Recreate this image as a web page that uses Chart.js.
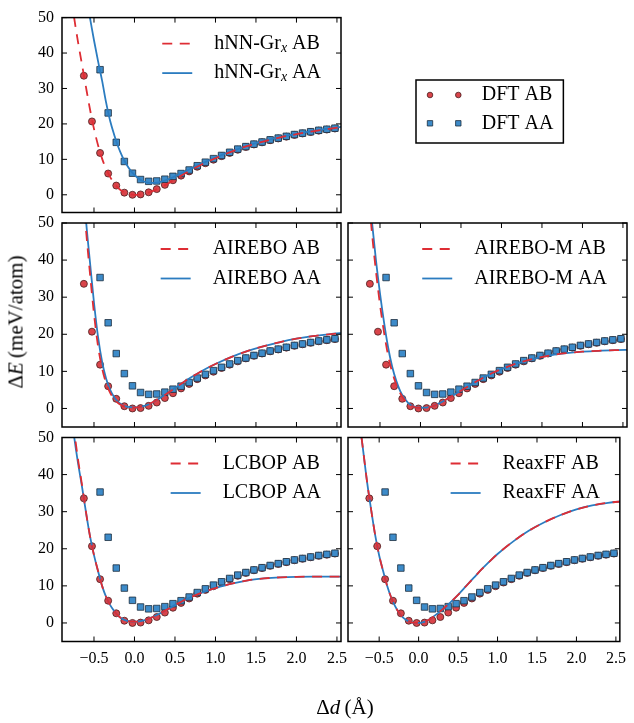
<!DOCTYPE html>
<html>
<head>
<meta charset="utf-8">
<script src="https://cdn.jsdelivr.net/npm/chart.js@4.4.1/dist/chart.umd.min.js"></script>
<style>
  html, body { margin: 0; padding: 0; background: #fff; }
  #fig { position: relative; width: 634px; height: 723px; overflow: hidden; font-family: "Liberation Serif", serif; }
  #fig canvas { position: absolute; left: 0; top: 0; }
  .axtitle { position: absolute; font-size: 21px; white-space: nowrap; color: #000; transform: translate(-50%, -50%); }
  #ylab { left: 16px; top: 322px; transform: translate(-50%, -50%) rotate(-90deg); }
  #xlab { left: 345px; top: 707px; }
</style>
</head>
<body>
<div id="fig">
  <canvas id="c-hnn" width="634" height="723"></canvas>
  <canvas id="c-dft" width="634" height="723"></canvas>
  <canvas id="c-airebo" width="634" height="723"></canvas>
  <canvas id="c-airebom" width="634" height="723"></canvas>
  <canvas id="c-lcbop" width="634" height="723"></canvas>
  <canvas id="c-reaxff" width="634" height="723"></canvas>
  <div class="axtitle" id="ylab">&Delta;<i>E</i>&thinsp;(meV/atom)</div>
  <div class="axtitle" id="xlab">&Delta;<i>d</i>&thinsp;(&Aring;)</div>
</div>
<script>
// DFT reference points (same in every panel)
const dftX = [-0.625, -0.525, -0.425, -0.325, -0.225, -0.125, -0.025, 0.075, 0.175, 0.275, 0.375,
  0.475, 0.575, 0.675, 0.775, 0.875, 0.975, 1.075, 1.175, 1.275, 1.375, 1.475, 1.575, 1.675,
  1.775, 1.875, 1.975, 2.075, 2.175, 2.275, 2.375, 2.475];
const dftAB = [33.6, 20.7, 11.8, 6.0, 2.6, 0.6, 0.0, 0.1, 0.7, 1.6, 2.8, 4.1, 5.4, 6.6, 7.9, 8.9,
  9.9, 10.9, 11.8, 12.7, 13.5, 14.2, 14.8, 15.4, 15.9, 16.4, 16.9, 17.3, 17.7, 18.1, 18.4, 18.7];
const dftAA = [null, null, 35.3, 23.1, 14.8, 9.4, 6.1, 4.3, 3.8, 3.9, 4.4, 5.2, 6.0, 7.0, 8.2, 9.2,
  10.2, 11.1, 12.0, 12.9, 13.6, 14.3, 14.9, 15.5, 16.0, 16.5, 17.0, 17.4, 17.8, 18.2, 18.5, 18.8];

// model curves, sampled on a common grid
const gridX = [-0.8, -0.75, -0.7, -0.65, -0.6, -0.55, -0.5, -0.45, -0.4, -0.35, -0.3, -0.25, -0.2,
  -0.15, -0.1, -0.05, 0, 0.05, 0.1, 0.15, 0.2, 0.3, 0.4, 0.5, 0.6, 0.7, 0.8, 0.9, 1.0, 1.2, 1.4,
  1.6, 1.8, 2.0, 2.2, 2.4, 2.6];
const hnnAB = [60, 50.8, 43.5, 37, 30.5, 24.2, 18.6, 14.0, 10.2, 7.3, 5.0, 3.2, 1.9, 1.0, 0.4, 0.1,
  0.0, 0.05, 0.2, 0.5, 0.85, 1.8, 3.0, 4.4, 5.7, 7.0, 8.2, 9.3, 10.3, 12.2, 13.8, 15.1, 16.2, 17.1,
  17.9, 18.6, 19.3];
const hnnAA = [null, null, null, null, 56, 50, 43.6, 37.7, 32.2, 26.0, 20.8, 16.9, 13.5, 10.8,
  8.6, 6.9, 5.6, 4.6, 3.9, 3.5, 3.35, 3.5, 4.2, 5.2, 6.3, 7.4, 8.5, 9.5, 10.5, 12.3, 13.9, 15.2,
  16.3, 17.2, 18.0, 18.7, 19.3];
const aireboAB = [null, null, null, 62, 48.5, 36.5, 25.5, 16.8, 10.8, 6.8, 4.2, 2.5, 1.4, 0.75, 0.4,
  0.25, 0.25, 0.35, 0.6, 0.95, 1.4, 2.6, 4.0, 5.5, 7.0, 8.4, 9.7, 10.9, 12.0, 13.9, 15.5, 16.8,
  17.9, 18.8, 19.5, 20.0, 20.4];
const aireboAA = [null, null, null, 65, 51, 39.5, 28.5, 19.3, 12.6, 8.0, 5.0, 3.0, 1.7, 0.95, 0.5,
  0.35, 0.3, 0.35, 0.55, 0.9, 1.35, 2.6, 4.0, 5.5, 7.0, 8.4, 9.7, 10.9, 12.0, 13.9, 15.5, 16.8,
  17.9, 18.8, 19.5, 20.0, 20.4];
const airebomAB = [null, null, null, 60, 47.5, 37, 28, 20.5, 14.3, 9.8, 6.5, 4.1, 2.4, 1.25, 0.6,
  0.25, 0.15, 0.15, 0.3, 0.6, 1.0, 2.2, 3.5, 4.8, 6.1, 7.4, 8.6, 9.7, 10.6, 12.2, 13.4, 14.3,
  14.9, 15.3, 15.55, 15.7, 15.8];
const airebomAA = [null, null, null, 62, 50.5, 40, 31, 23.2, 16.5, 11.3, 7.5, 4.7, 2.8, 1.45, 0.7,
  0.3, 0.2, 0.2, 0.35, 0.65, 1.05, 2.2, 3.5, 4.8, 6.1, 7.4, 8.6, 9.7, 10.6, 12.2, 13.4, 14.3,
  14.9, 15.3, 15.55, 15.7, 15.8];
const lcbopAB = [63, 53, 44.5, 37.5, 30.0, 23.5, 18.3, 14.0, 10.0, 7.0, 4.8, 3.2, 1.9, 1.1, 0.6,
  0.4, 0.35, 0.4, 0.6, 0.95, 1.35, 2.4, 3.6, 4.8, 6.0, 7.0, 7.9, 8.7, 9.4, 10.6, 11.5, 12.0, 12.3,
  12.45, 12.5, 12.5, 12.5];
const lcbopAA = [60, 51, 43.5, 37, 30.0, 23.5, 18.3, 14.0, 10.0, 7.0, 4.8, 3.2, 1.9, 1.1, 0.6,
  0.4, 0.35, 0.4, 0.6, 0.95, 1.35, 2.4, 3.6, 4.8, 6.0, 7.0, 7.9, 8.7, 9.4, 10.6, 11.5, 12.0, 12.3,
  12.45, 12.5, 12.5, 12.5];
const reaxffAB = [64, 54.5, 46, 37.5, 30.3, 23.6, 18.2, 14.0, 10.1, 7.0, 4.6, 2.8, 1.5, 0.7, 0.25,
  0.05, 0, 0.15, 0.55, 1.1, 1.9, 3.6, 5.5, 7.6, 9.9, 12.2, 14.5, 16.6, 18.6, 22.0, 24.9, 27.2,
  29.1, 30.6, 31.7, 32.4, 32.8];
const reaxffAA = [64, 54.5, 46, 37.5, 30.3, 23.6, 18.2, 14.0, 10.1, 7.0, 4.6, 2.8, 1.5, 0.7, 0.25,
  0.05, 0, 0.15, 0.55, 1.1, 1.9, 3.6, 5.5, 7.6, 9.9, 12.2, 14.5, 16.6, 18.6, 22.0, 24.9, 27.2,
  29.1, 30.6, 31.7, 32.4, 32.8];

const xTicks = [-0.5, 0, 0.5, 1, 1.5, 2, 2.5];
const yTicks = [0, 10, 20, 30, 40, 50];

const serif = '"Liberation Serif", "Times New Roman", serif';
const red = '#de2d34', blue = '#2b7cc0';
const circleFill = '#d9444a', circleEdge = '#4a1e20';
const squareFill = '#3d8bc9', squareEdge = '#1c2d3e';
const W = 634, H = 723;

function pts(xs, ys) {
  return xs.map((x, i) => ({x: x, y: ys[i]})).filter(p => p.y !== null);
}

// text with $_x$ style subscripts
function runs(text) {
  return text.split(/\$_(.+?)\$/).map((s, i) => ({s: s, sub: i % 2 === 1})).filter(r => r.s);
}
function labelWidth(ctx, text, size) {
  let w = 0;
  runs(text).forEach(r => {
    ctx.font = r.sub ? `italic ${size * 0.7}px ${serif}` : `${size}px ${serif}`;
    w += ctx.measureText(r.s).width;
  });
  return w;
}
function drawLabel(ctx, text, x, y, size) {
  runs(text).forEach(r => {
    ctx.font = r.sub ? `italic ${size * 0.7}px ${serif}` : `${size}px ${serif}`;
    ctx.fillText(r.s, x, r.sub ? y + size * 0.22 : y);
    x += ctx.measureText(r.s).width;
  });
}
function drawMarker(ctx, ds, x, y, r) {
  ctx.fillStyle = ds.backgroundColor;
  ctx.strokeStyle = ds.borderColor;
  ctx.lineWidth = ds.borderWidth;
  ctx.beginPath();
  if (ds.pointStyle === 'rect') ctx.rect(x - r, y - r, 2 * r, 2 * r);
  else ctx.arc(x, y, r, 0, Math.PI * 2);
  ctx.fill();
  ctx.stroke();
}

// matplotlib-like frame with inward ticks on all four sides
const frameTicks = {
  id: 'frameTicks',
  afterDatasetsDraw(chart) {
    const {ctx, chartArea: a, scales: {x, y}} = chart;
    ctx.save();
    ctx.strokeStyle = '#000';
    ctx.lineWidth = 1;
    ctx.beginPath();
    x.ticks.forEach(t => {
      const px = x.getPixelForValue(t.value);
      ctx.moveTo(px, a.bottom); ctx.lineTo(px, a.bottom - 5);
      ctx.moveTo(px, a.top); ctx.lineTo(px, a.top + 5);
    });
    y.ticks.forEach(t => {
      const py = y.getPixelForValue(t.value);
      ctx.moveTo(a.left, py); ctx.lineTo(a.left + 5, py);
      ctx.moveTo(a.right, py); ctx.lineTo(a.right - 5, py);
    });
    ctx.stroke();
    ctx.lineWidth = 1.5;
    ctx.strokeRect(a.left, a.top, a.right - a.left, a.bottom - a.top);
    ctx.restore();
  }
};

// legend of the curves, upper right inside the axes, no frame
const lineLegend = {
  id: 'lineLegend',
  afterDraw(chart, args, opts) {
    const {ctx, chartArea: a} = chart;
    const items = chart.data.datasets.filter(d => d.showLine);
    ctx.save();
    ctx.textBaseline = 'middle';
    ctx.fillStyle = '#000';
    const w = Math.max(...items.map(d => labelWidth(ctx, d.label, opts.size)));
    const tx = a.right - opts.padRight - w;
    items.forEach((d, i) => {
      const y = a.top + opts.firstRow + i * opts.rowGap;
      ctx.strokeStyle = d.borderColor;
      ctx.lineWidth = d.borderWidth;
      ctx.setLineDash(d.borderDash || []);
      ctx.beginPath();
      ctx.moveTo(tx - 52, y);
      ctx.lineTo(tx - 22, y);
      ctx.stroke();
      ctx.setLineDash([]);
      ctx.fillStyle = '#000';
      drawLabel(ctx, d.label, tx, y, opts.size);
    });
    ctx.restore();
  }
};

// framed legend for the DFT markers (two markers per entry)
const markerLegend = {
  id: 'markerLegend',
  afterDraw(chart, args, opts) {
    const ctx = chart.ctx;
    const items = chart.data.datasets;
    ctx.save();
    ctx.textBaseline = 'middle';
    const w = Math.max(...items.map(d => labelWidth(ctx, d.label, opts.size)));
    const tx = opts.x + 65.7;
    const bw = tx + w + 10 - opts.x;
    ctx.fillStyle = '#fff';
    ctx.fillRect(opts.x, opts.y, bw, opts.h);
    ctx.strokeStyle = '#000';
    ctx.lineWidth = 1.5;
    ctx.strokeRect(opts.x, opts.y, bw, opts.h);
    items.forEach((d, i) => {
      const y = opts.y + 15 + i * 28.3;
      const r = d.pointStyle === 'rect' ? 2.7 : 2.8;
      drawMarker(ctx, d, opts.x + 14, y, r);
      drawMarker(ctx, d, opts.x + 42.3, y, r);
      ctx.fillStyle = '#000';
      drawLabel(ctx, d.label, tx, y, opts.size);
    });
    ctx.restore();
  }
};

function dftSets() {
  return [
    {label: 'DFT AA', data: pts(dftX, dftAA), pointStyle: 'rect', pointRadius: 4.6,
     backgroundColor: squareFill, borderColor: squareEdge, borderWidth: 0.8},
    {label: 'DFT AB', data: pts(dftX, dftAB), pointStyle: 'circle', pointRadius: 3.5,
     backgroundColor: circleFill, borderColor: circleEdge, borderWidth: 0.8}
  ];
}

function lineSet(label, ys, color, dash) {
  return {
    label: label, data: pts(gridX, ys), showLine: true, pointRadius: 0, pointHoverRadius: 0,
    borderColor: color, backgroundColor: color, borderWidth: 1.8, borderDash: dash,
    cubicInterpolationMode: 'monotone', clip: 0
  };
}

function fmtX(v) {
  return v.toFixed(1).replace('-', '\u2212');
}

function makePanel(id, name, ab, aa, box) {
  const yw = box.yLabels ? 62 : 0;
  const xh = box.xLabels ? 40 : 0;
  new Chart(document.getElementById(id), {
    type: 'scatter',
    data: {
      // drawn last-to-first: circles, squares, AA line, AB line on top
      datasets: [
        lineSet(name + ' AB', ab, red, [10, 7.5]),
        lineSet(name + ' AA', aa, blue, []),
        ...dftSets()
      ]
    },
    options: {
      responsive: false,
      animation: false,
      events: [],
      layout: {
        autoPadding: false,
        padding: {left: box.L - yw, top: box.T, right: W - box.R, bottom: H - box.B - xh}
      },
      plugins: {
        legend: {display: false},
        tooltip: {enabled: false},
        lineLegend: {size: 20, padRight: 20, firstRow: 26, rowGap: 29.5}
      },
      scales: {
        x: {
          type: 'linear', min: -0.895, max: 2.55,
          grid: {display: false, drawTicks: false},
          border: {display: false},
          afterBuildTicks: s => { s.ticks = xTicks.map(v => ({value: v})); },
          afterFit: s => { s.height = xh; },
          ticks: {display: box.xLabels, padding: 8, maxRotation: 0, autoSkip: false, color: '#000',
                  font: {family: serif, size: 16}, callback: v => fmtX(v)}
        },
        y: {
          type: 'linear', min: -5, max: 50,
          grid: {display: false, drawTicks: false},
          border: {display: false},
          afterBuildTicks: s => { s.ticks = yTicks.map(v => ({value: v})); },
          afterFit: s => { s.width = yw; },
          ticks: {display: box.yLabels, padding: 8, color: '#000',
                  font: {family: serif, size: 16}, callback: v => String(v)}
        }
      }
    },
    plugins: [frameTicks, lineLegend]
  });
}

const rowT = [8.5, 223, 437.5];
const colL = [62, 348], colR = [341, 627];
function box(row, col) {
  return {L: colL[col], R: colR[col], T: rowT[row], B: rowT[row] + 204,
          yLabels: col === 0, xLabels: row === 2};
}

makePanel('c-hnn', 'hNN-Gr$_x$', hnnAB, hnnAA, box(0, 0));
makePanel('c-airebo', 'AIREBO', aireboAB, aireboAA, box(1, 0));
makePanel('c-airebom', 'AIREBO-M', airebomAB, airebomAA, box(1, 1));
makePanel('c-lcbop', 'LCBOP', lcbopAB, lcbopAA, box(2, 0));
makePanel('c-reaxff', 'ReaxFF', reaxffAB, reaxffAA, box(2, 1));

// legend-only chart in the empty top-right slot: the datasets carry styles only
const legendSets = dftSets().reverse().map(d => Object.assign(d, {data: []}));
new Chart(document.getElementById('c-dft'), {
  type: 'scatter',
  data: {datasets: legendSets},
  options: {
    responsive: false,
    animation: false,
    events: [],
    layout: {autoPadding: false, padding: {left: 348, top: 8.5, right: W - 627, bottom: H - 212.5}},
    plugins: {legend: {display: false}, tooltip: {enabled: false},
              markerLegend: {x: 416, y: 80, h: 63, size: 20}},
    scales: {x: {display: false, min: 0, max: 1}, y: {display: false, min: 0, max: 1}}
  },
  plugins: [markerLegend]
});
</script>
</body>
</html>
